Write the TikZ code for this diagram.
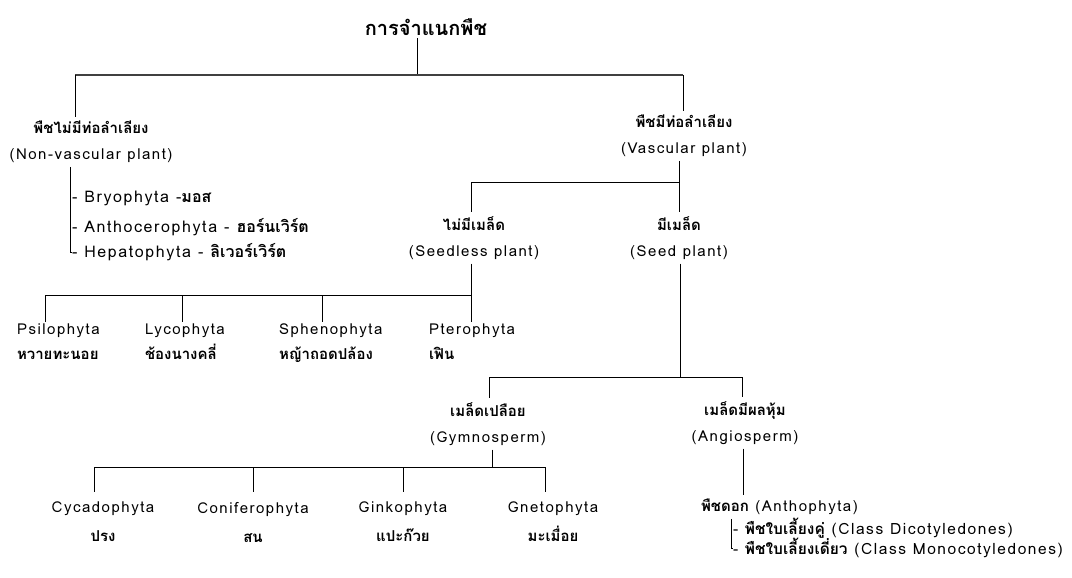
\documentclass[tikz,border=0pt]{standalone}
\usepackage{fontspec}
\setmainfont{Loma}[LetterSpace=10]
\newfontfamily\thaif{Loma}[Script=Thai]
\newcommand\thb[1]{{\thaif\bfseries #1}}
\tikzset{
  conn/.style={line width=1pt, black},
  trunk/.style={line width=1.8pt, black!75},
  lbl/.style={inner sep=0pt, outer sep=4pt, align=center, font=\fontsize{15}{26}\selectfont},
  leaf/.style={inner sep=0pt, outer sep=2pt, align=left, anchor=north west, font=\fontsize{15}{25}\selectfont},
  leafc/.style={inner sep=0pt, outer sep=10pt, align=center, anchor=north, font=\fontsize{15}{29}\selectfont},
  item/.style={inner sep=0pt, outer sep=0pt, anchor=west, font=\fontsize{16}{18}\selectfont},
  itemb/.style={inner sep=0pt, outer sep=0pt, anchor=west, font=\fontsize{15.5}{18}\selectfont},
}
\begin{document}
\begin{tikzpicture}[x=1pt,y=-1pt]
\useasboundingbox (0,0) rectangle (1072,578);
% title
\node[inner sep=0pt, outer sep=3pt, font=\thaif\bfseries\fontsize{20}{24}\selectfont] (title) at (426,27) {การจำแนกพืช};
\coordinate (j0) at (417,75);
\coordinate (jl) at (75,75);
\coordinate (jr) at (683,75);
\node[lbl] (nv) at (91,142) {\thb{พืชไม่มีท่อลำเลียง}\\(Non-vascular plant)};
\node[lbl] (vp) at (684,136) {\thb{พืชมีท่อลำเลียง}\\(Vascular plant)};
\draw[conn] (title.south -| j0) -- (j0);
\draw[trunk] (jl) -- (jr);
\draw[conn] (jl) -- (jl |- nv.north);
\draw[conn] (jr) -- (jr |- vp.north);
% non-vascular list
\coordinate (nvl) at (70,0);
\node[item] (bry) at (72,198) {- Bryophyta -\thb{มอส}};
\node[item] (ant) at (72,227) {- Anthocerophyta - \thb{ฮอร์นเวิร์ต}};
\node[item] (hep) at (72,252) {- Hepatophyta - \thb{ลิเวอร์เวิร์ต}};
\draw[conn] (nv.south -| nvl) |- (hep.west);
% vascular split
\coordinate (jv) at (679,182);
\coordinate (jsl) at (471,182);
\node[lbl] (sl) at (474,238) {\thb{ไม่มีเมล็ด}\\(Seedless plant)};
\node[lbl] (sd) at (679,238) {\thb{มีเมล็ด}\\(Seed plant)};
\draw[conn] (vp.south -| jv) -- (jv) -- (jsl) -- (jsl |- sl.north);
\draw[conn] (jv) -- (jv |- sd.north);
% seedless leaves
\coordinate (jp) at (471,295);
\coordinate (tpsi) at (45,295);
\coordinate (tlyc) at (182,295);
\coordinate (tsph) at (322,295);
\node[leaf] (psi) at (15,322) {Psilophyta\\\thb{หวายทะนอย}};
\node[leaf] (lyc) at (143,322) {Lycophyta\\\thb{ช้องนางคลี่}};
\node[leaf] (sph) at (277,322) {Sphenophyta\\\thb{หญ้าถอดปล้อง}};
\node[leaf] (pte) at (427,322) {Pterophyta\\\thb{เฟิน}};
\draw[conn] (sl.south -| jp) -- (jp |- pte.north);
\draw[conn] (jp) -- (tpsi);
\draw[conn] (tpsi) -- (tpsi |- psi.north);
\draw[conn] (tlyc) -- (tlyc |- lyc.north);
\draw[conn] (tsph) -- (tsph |- sph.north);
% seed split
\coordinate (js) at (680,377);
\coordinate (jg) at (489,377);
\coordinate (ja) at (742,377);
\node[lbl] (gym) at (488,424) {\thb{เมล็ดเปลือย}\\(Gymnosperm)};
\node[lbl] (ang) at (745,423) {\thb{เมล็ดมีผลหุ้ม}\\(Angiosperm)};
\draw[conn] (sd.south -| js) -- (js);
\draw[conn] (jg) -- (ja);
\draw[conn] (jg) -- (jg |- gym.north);
\draw[conn] (ja) -- (ja |- ang.north);
% gymnosperm leaves
\coordinate (jgl) at (492,467);
\coordinate (tcyc) at (94,467);
\coordinate (tcon) at (253,467);
\coordinate (tgin) at (403,467);
\coordinate (tgne) at (545,467);
\node[leafc] (cyc) at (103,492) {Cycadophyta\\\thb{ปรง}};
\node[leafc] (con) at (253,492) {Coniferophyta\\\thb{สน}};
\node[leafc] (gin) at (403,492) {Ginkophyta\\\thb{แปะก๊วย}};
\node[leafc] (gne) at (553,492) {Gnetophyta\\\thb{มะเมื่อย}};
\draw[conn] (gym.south -| jgl) -- (jgl);
\draw[conn] (tcyc) -- (tgne);
\draw[conn] (tcyc) -- (tcyc |- cyc.north);
\draw[conn] (tcon) -- (tcon |- con.north);
\draw[conn] (tgin) -- (tgin |- gin.north);
\draw[conn] (tgne) -- (tgne |- gne.north);
% angiosperm
\coordinate (jan) at (743,0);
\coordinate (jal) at (731,0);
\node[item, outer sep=4pt, font=\fontsize{15}{18}\selectfont] (antho) at (697,507) {\thb{พืชดอก} (Anthophyta)};
\node[itemb] (dico) at (733,528) {- \thb{พืชใบเลี้ยงคู่} (Class Dicotyledones)};
\node[itemb] (mono) at (733,548) {- \thb{พืชใบเลี้ยงเดี่ยว} (Class Monocotyledones)};
\draw[conn] (ang.south -| jan) -- (jan |- antho.north);
\draw[conn] (antho.south -| jal) |- (mono.west);
\end{tikzpicture}
\end{document}
